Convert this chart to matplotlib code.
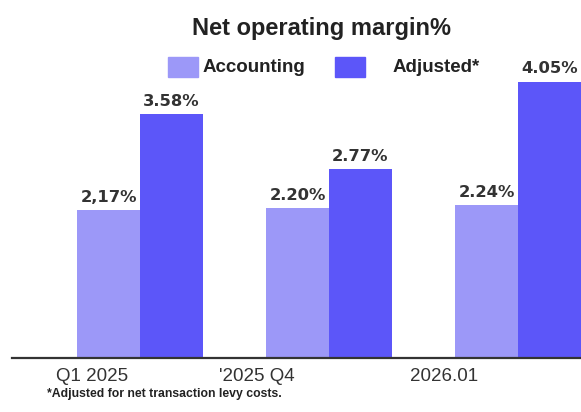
import matplotlib.pyplot as plt
from matplotlib.patches import Rectangle
import numpy as np

# Net operating margin, accounting vs adjusted
periods = ["Q1 2025", "'2025 Q4", "2026.01"]
accounting = [2.17, 2.20, 2.24]
adjusted = [3.58, 2.77, 4.05]
accounting_labels = ["2,17%", "2.20%", "2.24%"]
adjusted_labels = ["3.58%", "2.77%", "4.05%"]
label_shift = [-0.254, -0.381, -0.392]

light = "#9c98f8"
dark = "#5c56f9"
sans = ["Liberation Sans", "DejaVu Sans"]

fig = plt.figure(figsize=(5.81, 4.12), dpi=100)
ax = fig.add_axes([12 / 581, 54 / 412, 569 / 581, 298 / 412])

x = np.arange(len(periods))
w = 0.333
ax.bar(x - w / 2, accounting, w, color=light)
ax.bar(x + w / 2, adjusted, w, color=dark)

for xi, v, t in zip(x - w / 2, accounting, accounting_labels):
    ax.annotate(t, (xi, v), xytext=(0, 6), textcoords="offset points",
                ha="center", va="baseline", fontsize=11.8, fontweight="bold",
                color="#333333", family="DejaVu Sans")
for xi, v, t in zip(x + w / 2, adjusted, adjusted_labels):
    ax.annotate(t, (xi, v), xytext=(0, 6), textcoords="offset points",
                ha="center", va="baseline", fontsize=11.8, fontweight="bold",
                color="#333333", family="DejaVu Sans")

ax.set_xlim(-0.677, 2.333)
ax.set_ylim(0, 4.37)
ax.set_xticks(x + np.array(label_shift))
ax.set_xticklabels(periods, fontsize=13.5, color="#333333", family=sans)
ax.tick_params(axis="x", length=0, pad=7)
ax.set_yticks([])
for s in ["top", "right", "left"]:
    ax.spines[s].set_visible(False)
ax.spines["bottom"].set_linewidth(1.6)
ax.spines["bottom"].set_color("#333333")

# title and hand-placed legend
fig.text(321 / 581, 1 - 28 / 412, "Net operating margin%", ha="center", va="center",
         fontsize=17, fontweight="bold", color="#222222", family=sans)
fig.add_artist(Rectangle((168 / 581, 1 - 77 / 412), 30 / 581, 20 / 412,
                         transform=fig.transFigure, color=light))
fig.text(203 / 581, 1 - 67 / 412, "Accounting", ha="left", va="center",
         fontsize=13.5, fontweight="bold", color="#222222", family=sans)
fig.add_artist(Rectangle((335 / 581, 1 - 77 / 412), 30 / 581, 20 / 412,
                         transform=fig.transFigure, color=dark))
fig.text(393 / 581, 1 - 67 / 412, "Adjusted*", ha="left", va="center",
         fontsize=13.5, fontweight="bold", color="#222222", family=sans)

fig.text(47 / 581, 1 - 394 / 412, "*Adjusted for net transaction levy costs.",
         ha="left", va="center", fontsize=8.8, fontweight="bold", color="#222222",
         family=sans)

fig.savefig("out.png", dpi=100)
